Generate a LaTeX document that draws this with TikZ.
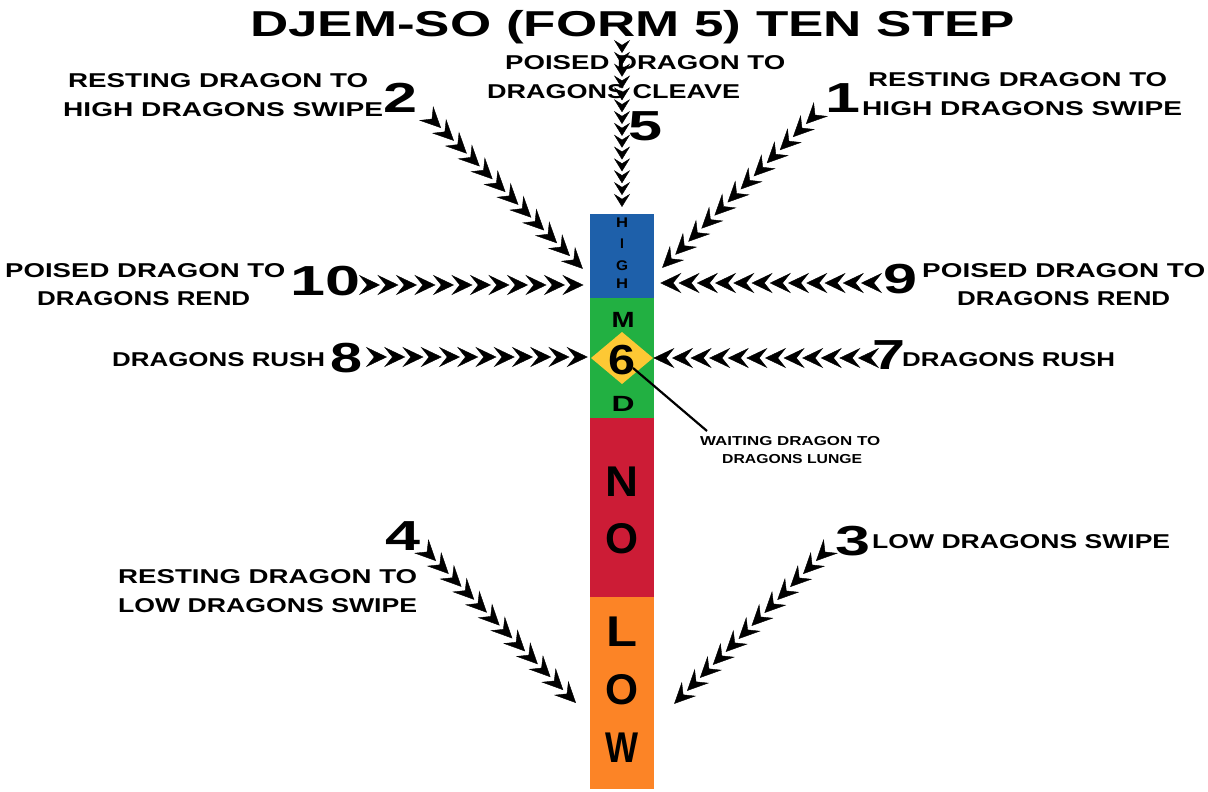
\documentclass[tikz,border=0pt]{standalone}
\usepackage{fontspec}
\usepackage{graphicx}
\setmainfont{Liberation Sans}
\usetikzlibrary{arrows.meta,decorations.markings}
\definecolor{barblue}{RGB}{30,96,170}
\definecolor{bargreen}{RGB}{34,176,66}
\definecolor{barred}{RGB}{204,28,54}
\definecolor{barorange}{RGB}{252,132,38}
\definecolor{baryellow}{RGB}{253,200,52}
\newcommand\fitto[2]{\setbox0\hbox{#2}\pgfmathsetmacro\fitfac{#1/\the\wd0}\scalebox{\fitfac}[1]{\box0}}
\newcommand\lblf{\fontsize{20}{20}\selectfont\bfseries}
\newcommand\numf{\fontsize{42}{42}\selectfont\bfseries}
\newcommand\titf{\fontsize{36}{36}\selectfont\bfseries}
\newcommand\smlf{\fontsize{13}{13}\selectfont\bfseries}
\tikzset{
  lbl/.style={inner sep=0pt, font=\lblf},
  num/.style={inner sep=0pt, font=\numf},
  sml/.style={inner sep=0pt, font=\smlf},
  barl/.style={inner sep=0pt, font=\bfseries},
  chevbig/.style={decorate, decoration={markings, mark=between positions 0 and 1 step #1 with {\arrow{Stealth[length=21pt,width=20pt,inset=8pt]}}}},
  chevsml/.style={decorate, decoration={markings, mark=between positions 0 and 1 step #1 with {\arrow{Stealth[length=13pt,width=16pt,inset=5pt]}}}}
}
\begin{document}
\begin{tikzpicture}[x=1pt,y=-1pt]
\useasboundingbox (0,0) rectangle (1208,792);
% bar
\fill[barblue] (590,214) rectangle (654,298);
\fill[bargreen] (590,298) rectangle (654,418);
\fill[barred] (590,418) rectangle (654,597);
\fill[barorange] (590,597) rectangle (654,789);
\fill[baryellow] (591,358) -- (622,332) -- (653,358) -- (622,384) -- cycle;
% bar letters
\node[barl, font=\fontsize{14}{14}\selectfont\bfseries] (h1) at (622,223) {\fitto{12}{H}};
\node[barl, font=\fontsize{14}{14}\selectfont\bfseries] (h2) at (622,244) {I};
\node[barl, font=\fontsize{14}{14}\selectfont\bfseries] (h3) at (622,266) {\fitto{12}{G}};
\node[barl, font=\fontsize{14}{14}\selectfont\bfseries] (h4) at (622,284) {\fitto{12}{H}};
\node[barl, font=\fontsize{22}{22}\selectfont\bfseries] (m1) at (623,320) {\fitto{23}{M}};
\node[barl, font=\fontsize{22}{22}\selectfont\bfseries] (m3) at (623,404) {\fitto{23}{D}};
\node[num, anchor=base] (six) at (622,374) {\fitto{27}{6}};
\node[barl, font=\fontsize{43}{43}\selectfont\bfseries] (n1) at (622,482) {\fitto{33}{N}};
\node[barl, font=\fontsize{43}{43}\selectfont\bfseries] (n2) at (622,539) {\fitto{33}{O}};
\node[barl, font=\fontsize{43}{43}\selectfont\bfseries] (l1) at (622,632) {\fitto{31}{L}};
\node[barl, font=\fontsize{43}{43}\selectfont\bfseries] (l2) at (622,690) {\fitto{33}{O}};
\node[barl, font=\fontsize{43}{43}\selectfont\bfseries] (l3) at (622,748) {\fitto{33}{W}};
% title
\node[anchor=base west, inner sep=0pt, font=\titf] (title) at (250,37) {\fitto{765}{DJEM-SO (FORM 5) TEN STEP}};
% labels
\node[lbl, anchor=base west] (t5a) at (505,70) {\fitto{280}{POISED DRAGON TO}};
\node[lbl, anchor=base west] (t5b) at (487,99) {\fitto{253}{DRAGONS CLEAVE}};
\node[num, anchor=base west] (n5) at (628,140) {\fitto{34}{5}};
\node[lbl, anchor=base west] (t2a) at (68,88) {\fitto{300}{RESTING DRAGON TO}};
\node[lbl, anchor=base west] (t2b) at (63,117) {\fitto{320}{HIGH DRAGONS SWIPE}};
\node[num, anchor=base west] (n2) at (383,112) {\fitto{34}{2}};
\node[num, anchor=base west] (n1) at (825,112) {\fitto{35}{1}};
\node[lbl, anchor=base west] (t1a) at (868,86) {\fitto{299}{RESTING DRAGON TO}};
\node[lbl, anchor=base west] (t1b) at (862,115) {\fitto{320}{HIGH DRAGONS SWIPE}};
\node[lbl, anchor=base west] (t10a) at (5,277) {\fitto{280}{POISED DRAGON TO}};
\node[lbl, anchor=base west] (t10b) at (37,305) {\fitto{213}{DRAGONS REND}};
\node[num, anchor=base west] (n10) at (290,295) {\fitto{70}{10}};
\node[num, anchor=base west] (n9) at (883,293) {\fitto{34}{9}};
\node[lbl, anchor=base west] (t9a) at (922,277) {\fitto{283}{POISED DRAGON TO}};
\node[lbl, anchor=base west] (t9b) at (957,305) {\fitto{213}{DRAGONS REND}};
\node[lbl, anchor=base west] (t8) at (112,366) {\fitto{213}{DRAGONS RUSH}};
\node[num, anchor=base west] (n8) at (330,372) {\fitto{32}{8}};
\node[num, anchor=base west] (n7) at (872,369) {\fitto{33}{7}};
\node[lbl, anchor=base west] (t7) at (902,366) {\fitto{213}{DRAGONS RUSH}};
\node[num, anchor=base west] (n3) at (835,555) {\fitto{35}{3}};
\node[lbl, anchor=base west] (t3) at (872,548) {\fitto{298}{LOW DRAGONS SWIPE}};
\node[num, anchor=base west] (n4) at (385,550) {\fitto{35}{4}};
\node[lbl, anchor=base west] (t4a) at (118,583) {\fitto{299}{RESTING DRAGON TO}};
\node[lbl, anchor=base west] (t4b) at (118,612) {\fitto{299}{LOW DRAGONS SWIPE}};
\node[sml, anchor=base west] (t6a) at (700,445) {\fitto{180}{WAITING DRAGON TO}};
\node[sml, anchor=base west] (t6b) at (722,463) {\fitto{140}{DRAGONS LUNGE}};
% pointer from 6
\coordinate (p6) at (633,368);
\coordinate (p6e) at (707,431);
\draw[line width=2.2pt] (p6) -- (p6e);
% chevron chains
\coordinate (c10s) at (380,285); \coordinate (c10e) at (584,285);
\coordinate (c8s) at (387,357);  \coordinate (c8e) at (588,357);
\coordinate (c9s) at (861,283);  \coordinate (c9e) at (660,283);
\coordinate (c7s) at (858,358);  \coordinate (c7e) at (653,358);
\coordinate (c2s) at (441,128);  \coordinate (c2e) at (583,269);
\coordinate (c1s) at (806,124);  \coordinate (c1e) at (662,268);
\coordinate (c4s) at (436,561);  \coordinate (c4e) at (576,703);
\coordinate (c3s) at (816,561);  \coordinate (c3e) at (674,704);
\coordinate (c5s) at (622,53);   \coordinate (c5e) at (622,207);
\path[chevbig=18.5pt] (c10s) -- (c10e);
\path[chevbig=18.25pt] (c8s) -- (c8e);
\path[chevbig=18.25pt] (c9s) -- (c9e);
\path[chevbig=18.6pt] (c7s) -- (c7e);
\path[chevbig=18.17pt] (c2s) -- (c2e);
\path[chevbig=18.49pt] (c1s) -- (c1e);
\path[chevbig=18.12pt] (c4s) -- (c4e);
\path[chevbig=18.3pt] (c3s) -- (c3e);
\path[chevsml=11.84pt] (c5s) -- (c5e);
\end{tikzpicture}
\end{document}
